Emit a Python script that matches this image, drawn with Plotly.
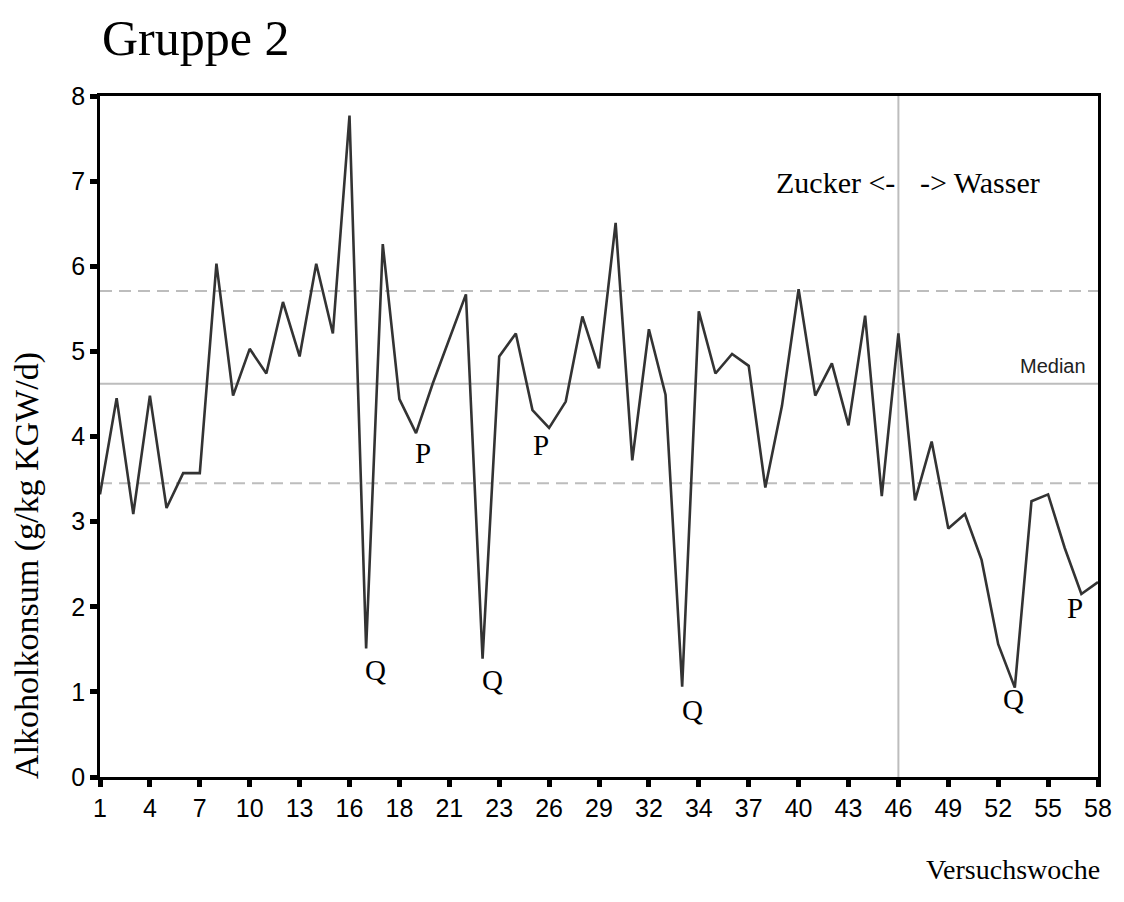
import plotly.graph_objects as go

# Data: 61 successive measurements (categorical positions), labelled by week
values = [3.32, 4.45, 3.09, 4.48, 3.16, 3.57, 3.57, 6.03, 4.48, 5.03,
          4.74, 5.58, 4.94, 6.03, 5.21, 7.77, 1.51, 6.26, 4.44, 4.04,
          4.62, 5.15, 5.67, 1.39, 4.94, 5.21, 4.31, 4.10, 4.41, 5.41,
          4.80, 6.51, 3.72, 5.26, 4.49, 1.06, 5.47, 4.74, 4.97, 4.83,
          3.40, 4.36, 5.73, 4.48, 4.86, 4.13, 5.42, 3.30, 5.21, 3.25,
          3.94, 2.92, 3.09, 2.55, 1.56, 1.05, 3.24, 3.32, 2.69, 2.15,
          2.29]
positions = list(range(len(values)))
tick_positions = positions[::3]
tick_labels = ["1", "4", "7", "10", "13", "16", "18", "21", "23", "26", "29",
               "32", "34", "37", "40", "43", "46", "49", "52", "55", "58"]

median_value = 4.62
upper_band = 5.71
lower_band = 3.45
switch_position = 48  # week 46: Zucker -> Wasser

mark_idx = [16, 19, 23, 27, 35, 55, 59]
mark_text = ["Q", "P", "Q", "P", "Q", "Q", "P"]
mark_dx = [0.55, 0.4, 0.6, -0.5, 0.6, -0.1, -0.4]
mark_dy = [-0.25, -0.23, -0.25, -0.2, -0.27, -0.13, -0.17]

SERIF = "Liberation Serif, Times New Roman, serif"
SANS = "Liberation Sans, Arial, sans-serif"
GREY = "#bdbdbd"

fig = go.Figure()
fig.add_trace(go.Scatter(x=positions, y=values, mode="lines",
                         line=dict(color="#333333", width=2.6),
                         hoverinfo="skip", showlegend=False))

shapes = [
    dict(type="line", xref="paper", x0=0, x1=1, yref="y", y0=upper_band, y1=upper_band,
         line=dict(color=GREY, width=2, dash="12px,7px"), layer="below"),
    dict(type="line", xref="paper", x0=0, x1=1, yref="y", y0=lower_band, y1=lower_band,
         line=dict(color=GREY, width=2, dash="12px,7px"), layer="below"),
    dict(type="line", xref="paper", x0=0, x1=1, yref="y", y0=median_value, y1=median_value,
         line=dict(color=GREY, width=2), layer="below"),
    dict(type="line", xref="x", x0=switch_position, x1=switch_position, yref="paper", y0=0, y1=1,
         line=dict(color=GREY, width=2), layer="below"),
]

annotations = []
for i, t, dx, dy in zip(mark_idx, mark_text, mark_dx, mark_dy):
    annotations.append(dict(x=i + dx, y=values[i] + dy, xref="x", yref="y", text=t,
                            showarrow=False, xanchor="center", yanchor="middle",
                            font=dict(family=SERIF, size=29, color="black")))

annotations += [
    dict(x=switch_position - 0.1, y=6.98, xref="x", yref="y", text="Zucker <-",
         showarrow=False, xanchor="right", yanchor="middle",
         font=dict(family=SERIF, size=30, color="black")),
    dict(x=switch_position + 1.2, y=6.98, xref="x", yref="y", text="-> Wasser",
         showarrow=False, xanchor="left", yanchor="middle",
         font=dict(family=SERIF, size=30, color="black")),
    dict(x=59.4, y=median_value + 0.05, xref="x", yref="y", text="Median",
         showarrow=False, xanchor="right", yanchor="bottom",
         font=dict(family=SANS, size=20, color="#222222")),
    dict(x=0, y=1, xref="paper", yref="paper", text="Gruppe 2", showarrow=False,
         xanchor="left", yanchor="middle", yshift=58,
         font=dict(family=SERIF, size=50, color="black")),
    dict(x=0, y=2.48, xref="paper", yref="y", text="Alkoholkonsum (g/kg KGW/d)",
         showarrow=False, textangle=-90, xanchor="center", yanchor="middle", xshift=-73,
         font=dict(family=SERIF, size=34, color="black")),
    dict(x=1, y=0, xref="paper", yref="paper", text="Versuchswoche", showarrow=False,
         xanchor="right", yanchor="middle", yshift=-92, xshift=4,
         font=dict(family=SERIF, size=28, color="black")),
]

fig.update_layout(
    width=1124, height=902,
    margin=dict(l=100, r=20, t=96, b=125),
    paper_bgcolor="white", plot_bgcolor="white",
    shapes=shapes, annotations=annotations,
    xaxis=dict(range=[0, 60], tickmode="array", tickvals=tick_positions, ticktext=tick_labels,
               showgrid=False, zeroline=False, showline=True, mirror=True,
               linecolor="black", linewidth=2.5, ticks="outside", ticklen=7, tickwidth=5,
               tickcolor="black", tickfont=dict(family=SANS, size=25, color="black")),
    yaxis=dict(range=[0, 8], tickmode="array", tickvals=list(range(9)),
               showgrid=False, zeroline=False, showline=True, mirror=True,
               linecolor="black", linewidth=2.5, ticks="outside", ticklen=7, tickwidth=5,
               tickcolor="black", tickfont=dict(family=SANS, size=25, color="black")),
)

fig.write_html("out.html", config={"displayModeBar": False},
               post_script="document.body.style.margin='0';document.body.style.overflow='hidden';")
